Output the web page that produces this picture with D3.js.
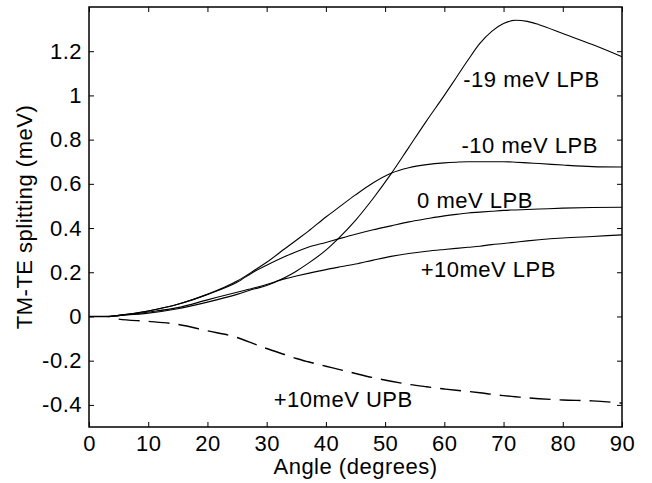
<!DOCTYPE html>
<html>
<head>
<meta charset="utf-8">
<script src="https://cdn.jsdelivr.net/npm/d3@7"></script>
<style>
    body { margin: 0; background: #fff; }
    svg { display: block; }
    text { font-family: "Liberation Sans", Arial, sans-serif; fill: #000; }
</style>
</head>
<body>
<svg id="chart" width="652" height="483"></svg>
<script>
// angles (degrees) and TM-TE splitting (meV)
const angles = [0, 3, 5, 10, 15, 20, 25, 28, 30, 33, 35, 37, 40, 42, 45, 48, 51, 54, 57, 60, 62, 64, 66, 68, 70, 72, 74, 76, 80, 85, 90];

const lpbMinus19 = [0, 0, 0.004, 0.015, 0.035, 0.065, 0.10, 0.125, 0.14, 0.175, 0.205, 0.24, 0.30, 0.35, 0.435, 0.535, 0.645, 0.765, 0.885, 1.0, 1.08, 1.16, 1.235, 1.29, 1.325, 1.34, 1.335, 1.32, 1.28, 1.23, 1.175];
const lpbMinus10 = [0, 0, 0.005, 0.025, 0.055, 0.10, 0.16, 0.21, 0.245, 0.305, 0.345, 0.385, 0.45, 0.49, 0.55, 0.605, 0.648, 0.673, 0.687, 0.695, 0.698, 0.70, 0.70, 0.70, 0.70, 0.698, 0.695, 0.692, 0.685, 0.678, 0.676];
const lpbZero    = [0, 0, 0.005, 0.025, 0.055, 0.10, 0.155, 0.205, 0.232, 0.27, 0.293, 0.313, 0.335, 0.35, 0.372, 0.392, 0.41, 0.428, 0.442, 0.455, 0.462, 0.468, 0.472, 0.476, 0.48, 0.482, 0.484, 0.486, 0.49, 0.493, 0.494];
const lpbPlus10  = [0, 0, 0.004, 0.02, 0.04, 0.075, 0.11, 0.13, 0.145, 0.17, 0.183, 0.195, 0.212, 0.222, 0.237, 0.255, 0.272, 0.285, 0.295, 0.303, 0.308, 0.313, 0.318, 0.325, 0.33, 0.336, 0.342, 0.347, 0.355, 0.362, 0.369];
const upbPlus10  = [0, 0, -0.012, -0.022, -0.036, -0.065, -0.095, -0.125, -0.145, -0.172, -0.19, -0.205, -0.225, -0.238, -0.258, -0.277, -0.293, -0.307, -0.318, -0.328, -0.334, -0.339, -0.345, -0.352, -0.358, -0.363, -0.368, -0.372, -0.378, -0.382, -0.392];

const xTicks = [0, 10, 20, 30, 40, 50, 60, 70, 80, 90];
const yTicks = [-0.4, -0.2, 0, 0.2, 0.4, 0.6, 0.8, 1, 1.2];

const seriesLabels = ["-19 meV LPB", "-10 meV LPB", "0 meV LPB", "+10meV LPB", "+10meV UPB"];
const labelAnchors = [[63.2, 1.04], [62.9, 0.74], [55.4, 0.49], [56.0, 0.18], [31.2, -0.41]];

const svg = d3.select("#chart");
const margin = { top: 7, right: 30, bottom: 56, left: 89 };
const width = +svg.attr("width") - margin.left - margin.right;
const height = +svg.attr("height") - margin.top - margin.bottom;
const fontSize = 22;
const spacing = 0.5;

const chartArea = svg.append("g")
    .attr("transform", `translate(${margin.left},${margin.top})`);

const xScale = d3.scaleLinear().domain([0, 90]).range([0, width]);
const yScale = d3.scaleLinear().domain([-0.5, 1.4]).range([height, 0]);

const fmt = d => String(+d.toFixed(1));

// MATLAB style: ticks point inwards on all four sides
const xAxis = d3.axisBottom(xScale).tickValues(xTicks).tickSize(-5).tickSizeOuter(0).tickPadding(8).tickFormat(fmt);
const xAxisTop = d3.axisTop(xScale).tickValues(xTicks).tickSize(-5).tickSizeOuter(0).tickFormat("");
const yAxis = d3.axisLeft(yScale).tickValues(yTicks).tickSize(-5).tickSizeOuter(0).tickPadding(7).tickFormat(fmt);
const yAxisRight = d3.axisRight(yScale).tickValues(yTicks).tickSize(-5).tickSizeOuter(0).tickFormat("");

chartArea.append("g").attr("transform", `translate(0,${height})`).call(xAxis);
chartArea.append("g").call(xAxisTop);
chartArea.append("g").call(yAxis);
chartArea.append("g").attr("transform", `translate(${width},0)`).call(yAxisRight);

chartArea.selectAll(".domain").remove();
chartArea.selectAll(".tick line").attr("stroke", "#000").attr("stroke-width", 1);
chartArea.selectAll(".tick text")
    .attr("font-size", fontSize)
    .attr("font-family", "Liberation Sans, Arial, sans-serif")
    .attr("letter-spacing", spacing);

const line = d3.line()
    .x((d, i) => xScale(angles[i]))
    .y(d => yScale(d))
    .curve(d3.curveMonotoneX);

[lpbMinus19, lpbMinus10, lpbZero, lpbPlus10].forEach(series => {
    chartArea.append("path")
        .datum(series)
        .attr("fill", "none")
        .attr("stroke", "#000")
        .attr("stroke-width", 1.1)
        .attr("d", line);
});

chartArea.append("path")
    .datum(upbPlus10)
    .attr("fill", "none")
    .attr("stroke", "#000")
    .attr("stroke-width", 1.4)
    .attr("stroke-dasharray", "21,9")
    .attr("d", line);

chartArea.append("rect")
    .attr("width", width)
    .attr("height", height)
    .attr("fill", "none")
    .attr("stroke", "#000")
    .attr("stroke-width", 1.5);

chartArea.selectAll(".series-label")
    .data(seriesLabels)
    .join("text")
    .attr("class", "series-label")
    .attr("x", (d, i) => xScale(labelAnchors[i][0]))
    .attr("y", (d, i) => yScale(labelAnchors[i][1]))
    .attr("font-size", fontSize)
    .attr("letter-spacing", spacing)
    .text(d => d);

chartArea.append("text")
    .attr("x", width / 2)
    .attr("y", height + 47)
    .attr("text-anchor", "middle")
    .attr("font-size", fontSize)
    .attr("letter-spacing", spacing)
    .text("Angle (degrees)");

chartArea.append("text")
    .attr("transform", "rotate(-90)")
    .attr("x", -height / 2)
    .attr("y", -57)
    .attr("text-anchor", "middle")
    .attr("font-size", fontSize)
    .attr("letter-spacing", spacing)
    .text("TM-TE splitting (meV)");
</script>
</body>
</html>
